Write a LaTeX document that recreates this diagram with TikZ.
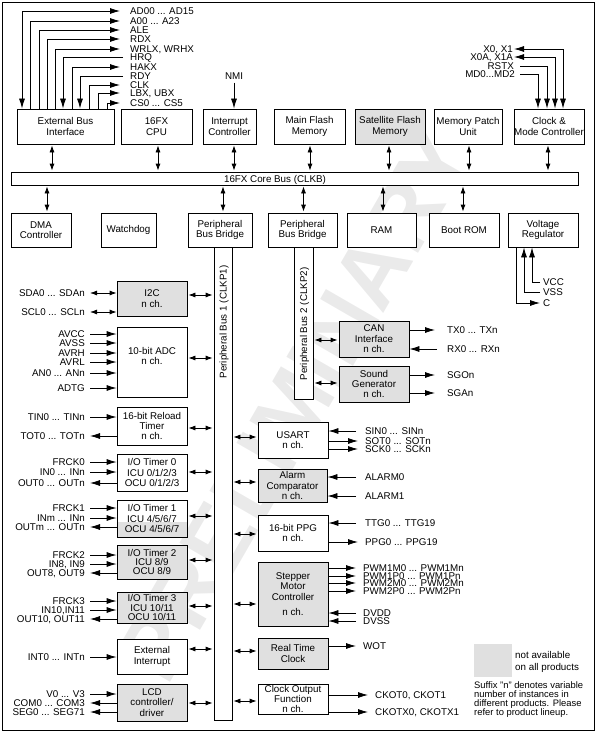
\documentclass[tikz,border=0pt]{standalone}
\usepackage{fontspec}
\setmainfont{Liberation Sans}
\usetikzlibrary{arrows.meta}
\definecolor{boxgray}{RGB}{224,224,224}
\definecolor{wmgray}{RGB}{234,234,234}
\newcommand\mybox[7][]{%
  \node[box,#1,minimum width={(#5-#3)*1pt},minimum height={(#6-#4)*1pt}] (#2) at ({(#3+#5)/2},{(#4+#6)/2}) {#7};}
\begin{document}
\begin{tikzpicture}[x=1pt,y=-1pt,
  box/.style={draw,line width=0.8pt,fill=white,inner sep=0pt,align=center,font=\fontsize{9.8}{10.4}\selectfont},
  gbox/.style={fill=boxgray},
  tight/.style={font=\fontsize{9.8}{9.2}\selectfont},
  btext/.style={inner sep=0pt,align=center,font=\fontsize{9.8}{10.4}\selectfont},
  lab/.style={inner sep=0pt,font=\fontsize{9.8}{10.4}\selectfont,text height=7pt,text depth=0pt},
  note/.style={inner sep=0pt,align=left},
  sig/.style={line width=0.8pt,-{Latex[length=10pt,width=6pt]}},
  sigb/.style={line width=0.8pt,{Latex[length=10pt,width=6pt]}-{Latex[length=10pt,width=6pt]}},
  bus/.style={line width=0.8pt,{Latex[length=7pt,width=5pt]}-{Latex[length=7pt,width=5pt]},shorten <=1pt,shorten >=1pt},
]
\useasboundingbox (0,0) rectangle (598,733);
% watermark
\node[font=\fontsize{90}{90}\selectfont\bfseries,text=wmgray,rotate=60,inner sep=0pt] (wm) at (295,405) {PRELIMINARY};
% frame
\node[draw,line width=0.8pt,minimum width=592pt,minimum height=728pt,inner sep=0pt] (frame) at (298,366) {};

% row 1
\mybox{ebi}{17}{109}{114}{144}{External Bus\\Interface}
\mybox{cpu}{121}{109}{192}{144}{16FX\\CPU}
\mybox{intc}{203}{109}{256}{144}{Interrupt\\Controller}
\mybox{mflash}{274}{109}{345}{144}{Main Flash\\Memory}
\mybox[gbox]{sflash}{355}{109}{425}{144}{Satellite Flash\\Memory}
\mybox{mpu}{434}{109}{502}{144}{Memory Patch\\Unit}
\mybox{clkc}{514}{109}{584}{144}{Clock \&\\Mode Controller}

% core bus
\mybox{core}{11}{172}{578}{185}{}
\node[lab] (corelab) at (275,178.5) {16FX Core Bus (CLKB)};

% row 2
\mybox{dma}{11}{213}{71}{247}{DMA\\Controller}
\mybox{wdog}{101}{213}{156}{247}{Watchdog}
\mybox{pbb1}{188}{213}{252}{247}{Peripheral\\Bus Bridge}
\mybox{pbb2}{268}{213}{337}{247}{Peripheral\\Bus Bridge}
\mybox{ram}{347}{213}{416}{247}{RAM}
\mybox{brom}{429}{213}{499}{247}{Boot ROM}
\mybox{vreg}{508}{213}{578}{247}{Voltage\\Regulator}

% core bus connections
\foreach \n/\x in {ebi/52,cpu/158,intc/234,mflash/310,sflash/389,mpu/469,clkc/548}
  \draw[bus] (\n.south -| \x,0) -- (core.north -| \x,0);
\foreach \n/\x in {dma/47,pbb1/223,pbb2/303.5,ram/383,brom/463}
  \draw[bus] (core.south -| \x,0) -- (\n.north -| \x,0);

% peripheral buses
\mybox{pbus1}{214}{247}{232}{720}{}
\mybox{pbus2}{294}{247}{313}{399}{}
\node[lab,rotate=90] (pb1lab) at (223,322) {Peripheral Bus 1 (CLKP1)};
\node[lab,rotate=90] (pb2lab) at (303.5,324) {Peripheral Bus 2 (CLKP2)};

% left column
\mybox[gbox]{i2c}{117}{281}{187}{316}{I2C\\n ch.}
\mybox{adc}{117}{327}{187}{397}{}
\node[btext] (adctext) at (152,356) {10-bit ADC\\n ch.};
\mybox{rtim}{117}{407}{187}{445}{16-bit Reload\\Timer\\n ch.}
\mybox{iot0}{117}{454}{187}{491}{I/O Timer 0\\ICU 0/1/2/3\\OCU 0/1/2/3}
\mybox[path picture={\fill[boxgray] ([yshift=15pt]path picture bounding box.south west) rectangle (path picture bounding box.south east);}]{iot1}{117}{500}{187}{537}{I/O Timer 1\\ICU 4/5/6/7\\OCU 4/5/6/7}
\mybox[gbox,tight]{iot2}{117}{545}{187}{579}{I/O Timer 2\\ICU 8/9\\OCU 8/9}
\mybox[gbox,tight]{iot3}{117}{592}{187}{623}{I/O Timer 3\\ICU 10/11\\OCU 10/11}
\mybox{extint}{117}{639}{187}{674}{External\\Interrupt}
\mybox[gbox]{lcd}{117}{684}{187}{721}{LCD\\controller/\\driver}

\foreach \n/\y in {i2c/295,adc/358,rtim/428,iot0/472,iot1/516,iot2/560,iot3/606,extint/649,lcd/703}
  \draw[bus] (\n.east |- 0,\y) -- (pbus1.west |- 0,\y);

% right column of bus 1
\mybox{usart}{258}{422}{328}{458}{USART\\n ch.}
\mybox[gbox]{alarm}{258}{469}{327}{502}{Alarm\\Comparator\\n ch.}
\mybox{ppg}{258}{515}{328}{551}{16-bit PPG\\n ch.}
\mybox[gbox]{stepper}{258}{562}{328}{626}{Stepper\\Motor\\Controller\\[5pt]n ch.}
\mybox[gbox]{rtc}{258}{638}{328}{669}{Real Time\\Clock}
\mybox[font=\fontsize{9.8}{9.6}\selectfont]{ckout}{258}{684}{328}{714}{Clock Output\\Function\\n ch.}

\foreach \n/\y in {usart/437,alarm/482,ppg/534,stepper/604,rtc/651,ckout/701}
  \draw[bus] (pbus1.east |- 0,\y) -- (\n.west |- 0,\y);

% bus 2 devices
\mybox[gbox]{can}{339}{321}{409}{357}{CAN\\Interface\\n ch.}
\mybox[gbox]{sound}{339}{366}{409}{402}{Sound\\Generator\\n ch.}
\foreach \n/\y in {can/340,sound/383}
  \draw[bus] (pbus2.east |- 0,\y) -- (\n.west |- 0,\y);

% external bus signals
\node[lab,anchor=west] (ad) at (130,11) {AD00 ... AD15};
\node[lab,anchor=west] (addr) at (130,21) {A00 ... A23};
\node[lab,anchor=west] (ale) at (130,30) {ALE};
\node[lab,anchor=west] (rdx) at (130,39) {RDX};
\node[lab,anchor=west] (wrlx) at (130,49) {WRLX, WRHX};
\node[lab,anchor=west] (hrq) at (130,57) {HRQ};
\node[lab,anchor=west] (hakx) at (130,67) {HAKX};
\node[lab,anchor=west] (rdy) at (130,76) {RDY};
\node[lab,anchor=west] (clkl) at (130,85) {CLK};
\node[lab,anchor=west] (lbx) at (130,93) {LBX, UBX};
\node[lab,anchor=west] (cs) at (130,103) {CS0 ... CS5};
\draw[sigb] ([xshift=-10pt]ad.west) -| (ebi.north -| 22,0);
\draw[sig] (ebi.north -| 30,0) |- ([xshift=-10pt]addr.west);
\draw[sig] (ebi.north -| 39,0) |- ([xshift=-10pt]ale.west);
\draw[sig] (ebi.north -| 47,0) |- ([xshift=-10pt]rdx.west);
\draw[sig] (ebi.north -| 55,0) |- ([xshift=-10pt]wrlx.west);
\draw[sig] ([xshift=-7pt]hrq.west) -| (ebi.north -| 63,0);
\draw[sig] (ebi.north -| 72,0) |- ([xshift=-10pt]hakx.west);
\draw[sig] ([xshift=-7pt]rdy.west) -| (ebi.north -| 80,0);
\draw[sig] (ebi.north -| 89,0) |- ([xshift=-10pt]clkl.west);
\draw[sig] (ebi.north -| 98,0) |- ([xshift=-10pt]lbx.west);
\draw[sig] (ebi.north -| 107,0) |- ([xshift=-10pt]cs.west);

% NMI
\node[lab] (nmi) at (234,76) {NMI};
\draw[sig,shorten <=3pt] (nmi.south) -- (intc.north -| nmi.south);

% clock signals
\node[lab,anchor=east] (xo) at (513,49) {X0, X1};
\node[lab,anchor=east] (xoa) at (513,57) {X0A, X1A};
\node[lab,anchor=east] (rstx) at (514,66) {RSTX};
\node[lab,anchor=east] (md) at (515,74) {MD0...MD2};
\draw[sigb] ([xshift=1pt]xo.east) -| (clkc.north -| 563,0);
\draw[sigb] ([xshift=1pt]xoa.east) -| (clkc.north -| 555,0);
\draw[sig] ([xshift=6pt]rstx.east) -| (clkc.north -| 547,0);
\draw[sig] ([xshift=5pt]md.east) -| (clkc.north -| 538,0);

% voltage regulator
\node[lab,anchor=west] (vcc) at (543,282) {VCC};
\node[lab,anchor=west] (vss) at (543,292) {VSS};
\node[lab,anchor=west] (cl) at (543,303) {C};
\draw[sig] (vreg.south -| 516,0) |- ([xshift=-3pt]cl.west);
\draw[sig] ([xshift=-3pt]vss.west) -| (vreg.south -| 524,0);
\draw[sig] ([xshift=-3pt]vcc.west) -| (vreg.south -| 532,0);

% left signals
\node[lab,anchor=east] (sda) at (85,293) {SDA0 ... SDAn};
\node[lab,anchor=east] (scl) at (85,312) {SCL0 ... SCLn};
\draw[bus,shorten <=0pt,shorten >=0pt] ([xshift=5pt]sda.east) -- (i2c.west |- sda.east);
\draw[bus,shorten <=0pt,shorten >=0pt] ([xshift=5pt]scl.east) -- (i2c.west |- scl.east);

\foreach \nm/\y/\t in {avcc/334/AVCC,avss/343/AVSS,avrh/353/AVRH,avrl/362/AVRL,an/373/{AN0 ... ANn},adtg/388/ADTG}{
  \node[lab,anchor=east] (\nm) at (85,\y) {\t};
  \draw[sig] ([xshift=5pt]\nm.east) -- (adc.west |- \nm.east);
}
% inputs into left boxes
\foreach \nm/\b/\y/\t in {tin/rtim/417/{TIN0 ... TINn},frcko/iot0/462/FRCK0,ino/iot0/472/{IN0 ... INn},frcki/iot1/508/FRCK1,inm/iot1/518/{INm ... INn},frckii/iot2/555/FRCK2,ineight/iot2/564/{IN8, IN9},frckiii/iot3/601/FRCK3,inten/iot3/610/{IN10,IN11},intn/extint/657/{INT0 ... INTn},vzero/lcd/694/{V0 ... V3}}{
  \node[lab,anchor=east] (\nm) at (85,\y) {\t};
  \draw[sig] ([xshift=5pt]\nm.east) -- (\b.west |- \nm.east);
}
% outputs from left boxes
\foreach \nm/\b/\y/\t in {tot/rtim/436/{TOT0 ... TOTn},outo/iot0/483/{OUT0 ... OUTn},outm/iot1/527/{OUTm ... OUTn},outeight/iot2/573/{OUT8, OUT9},outten/iot3/619/{OUT10, OUT11},com/lcd/703/{COM0 ... COM3},seg/lcd/712/{SEG0 ... SEG71}}{
  \node[lab,anchor=east] (\nm) at (85,\y) {\t};
  \draw[sig] (\b.west |- \nm.east) -- ([xshift=5pt]\nm.east);
}

% right signals: inputs
\foreach \nm/\b/\x/\y/\t in {sin/usart/365/431/{SIN0 ... SINn},alo/alarm/365/477/ALARM0,ali/alarm/365/496/ALARM1,ttg/ppg/365/523/{TTG0 ... TTG19},dvdd/stepper/363/613/DVDD,dvss/stepper/363/621/DVSS}{
  \node[lab,anchor=west] (\nm) at (\x,\y) {\t};
  \draw[sig] ([xshift={(356-\x)*1pt}]\nm.west) -- (\b.east |- \nm.west);
}
% right signals: outputs
\foreach \nm/\b/\x/\y/\t in {sot/usart/365/441/{SOT0 ... SOTn},sck/usart/365/449/{SCK0 ... SCKn},ppgo/ppg/365/542/{PPG0 ... PPG19},pwma/stepper/363/568/{PWM1M0 ... PWM1Mn},pwmb/stepper/363/576/{PWM1P0 ... PWM1Pn},pwmc/stepper/363/583/{PWM2M0 ... PWM2Mn},pwmd/stepper/363/591/{PWM2P0 ... PWM2Pn},wot/rtc/363/646/WOT,ckot/ckout/375/695/{CKOT0, CKOT1},ckotx/ckout/375/712/{CKOTX0, CKOTX1}}{
  \node[lab,anchor=west] (\nm) at (\x,\y) {\t};
  \draw[sig] (\b.east |- \nm.west) -- ([xshift=-7pt]\nm.west);
}

% bus 2 signals
\node[lab,anchor=west] (tx) at (447,330) {TX0 ... TXn};
\node[lab,anchor=west] (rx) at (447,349) {RX0 ... RXn};
\node[lab,anchor=west] (sgo) at (447,375) {SGOn};
\node[lab,anchor=west] (sga) at (447,393) {SGAn};
\draw[sig] (can.east |- tx.west) -- ([xshift=-12pt]tx.west);
\draw[sig] ([xshift=-10pt]rx.west) -- (can.east |- rx.west);
\draw[sig] (sound.east |- sgo.west) -- ([xshift=-12pt]sgo.west);
\draw[sig] (sound.east |- sga.west) -- ([xshift=-12pt]sga.west);

% legend
\node[fill=boxgray,minimum width=38pt,minimum height=33pt,inner sep=0pt] (leg) at (493,660.5) {};
\node[note,anchor=west,font=\fontsize{9.8}{12}\selectfont] (legtext) at (515,662) {not available\\on all products};
\node[note,anchor=north west,font=\fontsize{9.4}{9}\selectfont] (suffix) at (474,681) {Suffix "n" denotes variable\\number of instances in\\different products. Please\\refer to product lineup.};
\end{tikzpicture}
\end{document}
